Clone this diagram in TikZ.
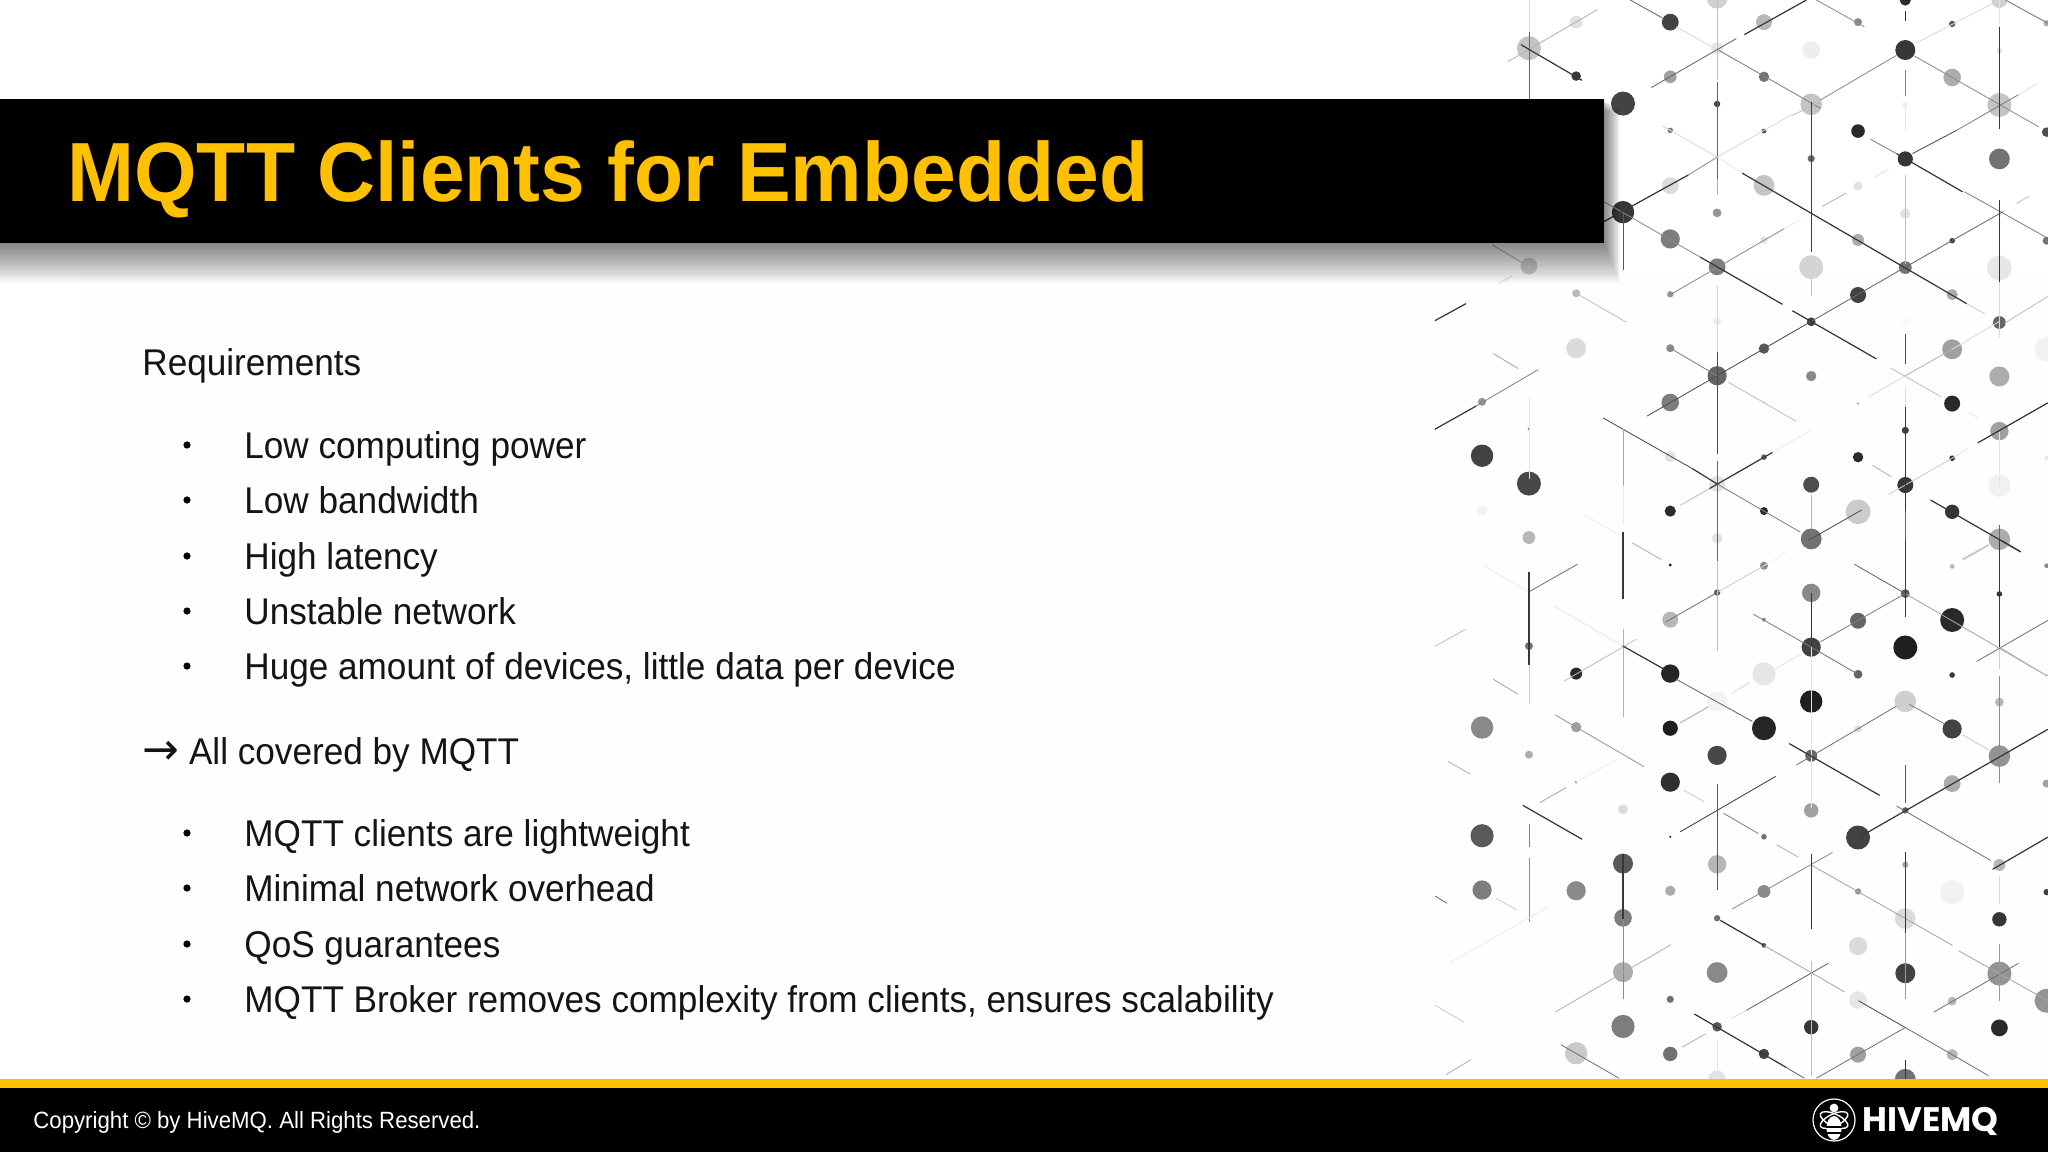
\documentclass[tikz,border=0pt]{standalone}
\usepackage{fontspec}
\usetikzlibrary{positioning, calc}

\setmainfont{Liberation Sans}
\newfontfamily\titlefont[FakeStretch=0.957]{Liberation Sans}
\newfontfamily\bodyfont[FakeStretch=0.945]{Liberation Sans}
\newfontfamily\arrowfont{DejaVu Sans}
\newfontfamily\logofont{Poppins}

\definecolor{hiveyellow}{HTML}{FFC000}

\begin{document}
\begin{tikzpicture}[
    x=0.5pt, y=-0.5pt,
    titletext/.style={anchor=base west, inner sep=0pt, text=hiveyellow, font=\titlefont\fontsize{42pt}{42pt}\selectfont\bfseries},
    bodytext/.style={anchor=base west, inner sep=0pt, text=black!92, font=\bodyfont\fontsize{18.6pt}{22pt}\selectfont},
    footertext/.style={anchor=base west, inner sep=0pt, text=white, font=\bodyfont\fontsize{11.75pt}{14pt}\selectfont},
    logotext/.style={anchor=base west, inner sep=0pt, text=white, font=\logofont\fontsize{17pt}{17pt}\selectfont\bfseries},
    bulletdot/.style={circle, fill=black, minimum size=3.6pt, inner sep=0pt},
    link/.style={line width=0.42pt},
    heavylink/.style={line width=0.62pt}
]

    % --- Page ---
    \clip (0,0) rectangle (2048,1152);
    \fill[white] (0,0) rectangle (2048,1152);
    \fill[white!99.6!black] (80,272) rectangle (2048,1079);

    % --- Upper half of the pattern ---
    \begin{scope}[shift={(1420,0)}, x=0.2002pt, y=-0.17857pt]
        \foreach \px/\py/\r/\k in {
            272/135/30/25, 390/62/16/12, 390/213/12/85, 625/62/21/80, 742/135/15/10, 742/-5/26/20,
            859/62/20/30, 1094/62/10/50, 1212/0/14/90, 1212/140/25/85, 1329/67/8/70, 1447/0/20/20,
            1447/142/7/12, 1565/65/8/35, 625/215/16/40, 859/215/13/60, 977/140/22/7, 1329/217/22/35,
            507/290/30/80, 742/291/8/80, 977/292/27/25, 1212/293/7/8, 1447/294/30/25, 1094/367/17/90,
            1565/370/12/75, 625/365/7/55, 859/367/6/75, 1447/445/26/60, 977/444/9/65, 1212/445/19/85,
            625/520/21/15, 859/519/26/25, 1094/521/11/12, 507/594/28/85, 742/596/11/45, 1212/598/13/12,
            625/669/24/55, 859/672/9/12, 1094/672/15/35, 1329/674/7/80, 1565/674/10/60, 272/745/21/20,
            742/747/21/55, 977/748/30/18, 1212/749/16/60, 1447/750/31/10, 390/821/10/30, 625/824/8/45,
            1094/826/20/80, 1329/825/14/35, 742/900/10/8, 977/901/11/80, 1212/900/12/2, 1447/903/16/65,
            390/975/25/15, 625/975/10/50, 859/976/13/70, 1329/978/25/40, 1565/978/30/6, 742/1052/24/65,
            977/1053/13/50, 1447/1054/25/35, 155/1125/10/45, 625/1127/22/55, 1329/1130/20/90, 272/1201/4/50,
            859/1127/2/50, 1094/1130/3/40, 1212/1205/9/80, 1447/1207/23/40, 625/1278/14/12, 859/1280/7/70,
            1094/1280/13/90, 1329/1283/7/85, 1565/1282/6/10, 155/1276/28/80, 272/1354/30/78, 742/1355/20/12,
            977/1357/20/75, 1212/1358/20/85, 1447/1360/28/6, 155/1430/12/5, 625/1431/14/90, 859/1431/10/90,
            1094/1433/31/22, 1329/1433/18/85, 272/1505/16/30, 742/1507/13/12, 977/1509/26/60, 1447/1510/27/35}
        {
            \fill[black!\k, opacity=0.92] (\px,\py) circle[radius=\r*0.2pt];
        }
        \foreach \ax/\ay/\bx/\by/\k in {
            272/0/272/90/15, 272/90/272/280/60, 220/172/443/27/30, 525/0/605/50/60, 640/75/790/170/15,
            742/0/742/225/25, 578/245/790/108/60, 990/0/1110/75/45, 745/140/1000/303/50, 742/230/742/500/60,
            742/500/742/545/30, 605/352/742/440/15, 742/440/805/485/8, 1000/280/1190/155/45, 930/323/1000/285/25,
            977/285/977/705/75, 670/490/742/440/45, 742/440/930/320/15, 1212/30/1212/60/80, 1212/195/1212/270/50,
            1212/300/1212/370/10, 1212/490/1212/740/25, 1447/0/1447/75/10, 1232/155/1545/355/45, 1240/120/1447/0/15,
            1462/0/1568/65/55, 1125/390/1190/430/50, 1230/430/1340/365/70, 1340/365/1495/265/50, 1495/265/1540/235/12,
            1360/537/1565/665/50, 1365/850/1410/878/20, 1175/1030/1300/1110/25, 460/565/700/720/45, 625/825/910/640/45,
            910/640/950/615/10, 977/900/1212/748/60, 1212/748/1457/592/60, 567/1165/977/900/70, 1447/790/1447/945/15,
            1460/905/1568/830/25, 1120/1112/1212/1052/15, 1212/1052/1329/978/30, 1329/978/1447/900/15,
            1212/935/1212/1020/70, 1212/1085/1212/1140/15, 1212/1430/1212/1568/60, 742/800/742/985/15, 742/985/742/1270/70,
            742/1290/742/1568/60, 625/975/742/1052/50, 770/1070/940/1180/25, 1370/1155/1395/1170/10, 1447/1210/1447/1360/10,
            1005/578/1065/540/30, 1135/497/1170/473/12, 1490/570/1520/550/25, 507/600/507/755/65, 180/685/255/735/30,
            197/793/230/773/15, 390/821/515/902/25, 183/990/245/1032/35, 140/1137/295/1035/50, 272/1115/272/1340/10,
            1170/1385/1212/1358/20, 1212/1358/1329/1283/20, 1329/1283/1370/1255/10, 457/1170/680/1312/70, 742/1355/859/1431/50,
            859/1431/950/1490/50, 880/1267/975/1205/8, 650/1415/723/1368/25, 507/1200/507/1360/35, 507/1360/507/1470/8,
            530/1520/600/1565/25, 408/1440/500/1500/8, 1130/1303/1177/1335/30, 970/1513/1103/1428/70, 977/1385/977/1480/30,
            1355/1565/1420/1525/25, 1447/1470/1447/1568/60, 977/780/977/830/25}
        {
            \draw[link, black!\k] (\ax,\ay) -- (\bx,\by);
        }
        \foreach \ax/\ay/\bx/\by in {
            252/125/405/225, 810/97/965/0, 460/620/670/490, 1447/75/1447/360, 1190/430/1355/537,
            805/485/1365/850, 700/720/905/852, 930/870/1140/1005, 1447/560/1447/790, 1212/1140/1212/1430,
            1393/1240/1568/1128, 37/898/115/850, 37/1202/140/1137, 680/1312/742/1355, 723/1368/880/1267,
            507/1490/507/1568, 1275/1400/1500/1545}
        {
            \draw[heavylink, black!78] (\ax,\ay) -- (\bx,\by);
        }
    \end{scope}

    % --- Lower half of the pattern ---
    \begin{scope}[shift={(1420,540)}, x=0.2002pt, y=-0.17857pt]
        \foreach \px/\py/\r/\k in {
            625/70/4/95, 859/72/10/50, 1329/74/6/30, 1565/72/6/50, 742/147/8/70, 977/148/23/50,
            1212/150/11/70, 1447/151/7/85, 625/223/20/30, 859/223/5/50, 1094/226/20/65, 1329/224/30/90,
            272/297/10/60, 977/300/24/80, 1212/301/30/95, 390/374/15/90, 625/374/23/92, 859/375/29/10,
            1094/376/11/65, 1329/378/7/85, 1565/379/2/85, 977/452/28/95, 1212/452/27/20, 742/452/25/5,
            1447/454/11/30, 155/525/28/50, 390/524/13/40, 625/527/19/95, 859/527/30/92, 1094/529/9/15,
            1329/529/24/80, 272/601/10/35, 742/603/24/78, 977/604/15/65, 1447/605/27/45, 625/678/24/88,
            390/678/4/35, 1329/682/21/35, 1565/682/10/40, 507/754/12/15, 977/757/18/40, 1212/757/8/70,
            155/828/29/70, 625/831/3/90, 859/831/7/60, 1094/833/30/80, 507/906/25/70, 742/908/23/30,
            1212/909/8/35, 1447/910/15/30, 155/980/24/55, 390/982/24/50, 625/982/13/35, 859/984/16/50,
            1094/984/8/45, 1329/986/30/6, 1565/986/8/80, 507/1058/22/55, 742/1059/8/60, 1212/1060/26/15,
            1447/1062/18/85, 859/1135/6/70, 1094/1137/23/15, 507/1210/25/35, 742/1211/26/50, 1212/1213/25/80,
            1447/1214/30/45, 625/1286/9/60, 1094/1288/22/10, 1329/1291/11/30, 1565/1290/30/45, 507/1362/29/55,
            742/1363/12/70, 977/1364/18/85, 1447/1366/21/90, 390/1437/28/22, 625/1439/18/60, 859/1439/13/80,
            1094/1441/20/40, 1329/1441/14/30, 742/1510/22/12, 1212/1510/26/60}
        {
            \fill[black!\k, opacity=0.92] (\px,\py) circle[radius=\r*0.2pt];
        }
        \foreach \ax/\ay/\bx/\by/\k in {
            272/350/272/460/20, 272/145/393/68/55, 160/72/272/145/8, 37/298/113/250/25, 183/390/245/432/35,
            530/8/603/55/25, 742/0/742/60/60, 742/60/742/310/25, 613/230/742/147/55, 742/147/859/72/20,
            859/72/920/30/5, 833/208/977/300/50, 977/300/1094/376/55, 977/300/977/750/10, 1085/68/1212/150/60,
            1000/285/1212/150/50, 1212/150/1565/380/35, 1212/630/1212/735/65, 1447/300/1447/360/20, 1447/380/1447/680/45,
            1390/340/1568/225/55, 1447/300/1565/380/30, 1357/55/1420/15/25, 335/185/507/297/10, 507/250/507/495/30,
            360/395/540/278/25, 640/390/830/508/60, 780/428/822/400/15, 865/375/950/320/10, 650/512/720/467/35,
            338/490/560/635/40, 300/735/365/693/35, 390/678/490/615/8, 70/620/125/655/30, 272/795/272/860/50,
            272/890/272/1070/45, 650/817/888/662/75, 742/683/742/980/65, 658/700/710/733/20, 758/765/845/822/50,
            890/853/945/888/30, 940/630/1190/465/55, 1222/460/1310/515/50, 1355/545/1420/588/20, 1190/745/1425/897/55,
            1447/940/1447/1020/15, 977/910/1330/1135/35, 780/1033/1030/875/45, 507/1060/507/1285/45, 190/1003/240/1035/20,
            38/997/67/1017/60, 75/1183/320/1028/8, 337/1322/627/1133/30, 38/1303/110/1350/20, 65/1497/127/1455/30,
            352/1413/497/1507/55, 859/1135/1060/1265/35, 815/1317/1020/1185/60, 780/1338/815/1317/15, 977/1180/977/1500/25,
            1095/1290/1212/1365/70, 1212/1365/1420/1500/55, 990/1507/1212/1365/55, 1212/1100/1212/1285/40, 1345/1150/1568/1290/35,
            1283/1322/1495/1185/55, 1447/1130/1447/1290/40, 915/1477/960/1507/60, 742/1400/742/1508/10, 655/1420/713/1383/30}
        {
            \draw[link, black!\k] (\ax,\ay) -- (\bx,\by);
        }
        \foreach \ax/\ay/\bx/\by in {
            272/90/272/350, 507/0/507/165, 1212/0/1212/215, 1447/0/1447/300, 507/297/610/362,
            1450/0/1500/33, 257/743/405/838, 922/570/1148/715, 1100/830/1568/530, 1430/922/1568/832,
            977/148/977/300, 977/880/977/1090, 507/880/507/1060, 750/1065/859/1135, 1212/873/1212/1100,
            685/1327/915/1477, 1212/1455/1212/1508}
        {
            \draw[heavylink, black!78] (\ax,\ay) -- (\bx,\by);
        }
    \end{scope}

    % --- Title bar with its shadow ---
    \foreach \d in {40,38,...,2} {
        \fill[black, opacity=0.028] (-10,99+0.3*\d) rectangle (1604+0.4*\d,243+\d);
    }
    \fill[black] (0,99) rectangle (1604,243);
    \node[titletext] (title) at (67,201) {MQTT Clients for Embedded};

    % --- First list ---
    \node[bodytext] (req) at (142,375) {Requirements};
    \node[bodytext] (req1) at (244,458) {Low computing power};
    \node[bodytext] (req2) at (244,513) {Low bandwidth};
    \node[bodytext] (req3) at (244,569) {High latency};
    \node[bodytext] (req4) at (244,624) {Unstable network};
    \node[bodytext] (req5) at (244,679) {Huge amount of devices, little data per device};
    \node[bulletdot] (dot1) at (187,445) {};
    \node[bulletdot] (dot2) at (187,500) {};
    \node[bulletdot] (dot3) at (187,556) {};
    \node[bulletdot] (dot4) at (187,611) {};
    \node[bulletdot] (dot5) at (187,666) {};

    % --- Second list ---
    \node[bodytext] (cov) at (142,764) {{\arrowfont\fontsize{22pt}{22pt}\selectfont →} All covered by MQTT};
    \node[bodytext] (cov1) at (244,846) {MQTT clients are lightweight};
    \node[bodytext] (cov2) at (244,901) {Minimal network overhead};
    \node[bodytext] (cov3) at (244,957) {QoS guarantees};
    \node[bodytext] (cov4) at (244,1012) {MQTT Broker removes complexity from clients, ensures scalability};
    \node[bulletdot] (dot6) at (187,833) {};
    \node[bulletdot] (dot7) at (187,888) {};
    \node[bulletdot] (dot8) at (187,944) {};
    \node[bulletdot] (dot9) at (187,999) {};

    % --- Footer ---
    \fill[hiveyellow] (0,1079) rectangle (2048,1088);
    \fill[black] (0,1088) rectangle (2048,1152);
    \node[footertext] (copy) at (33,1128) {Copyright © by HiveMQ. All Rights Reserved.};

    % --- Logo ---
    \coordinate (bee) at (1834,1120);
    \draw[white, line width=0.6pt] (bee) circle[radius=10.5pt];
    \draw[white, line width=0.7pt, rotate around={25:(bee)}] (bee) ellipse[x radius=7.5pt, y radius=3pt];
    \draw[white, line width=0.7pt, rotate around={-25:(bee)}] (bee) ellipse[x radius=7.5pt, y radius=3pt];
    \fill[white] ($(bee)+(0,-12)$) circle[radius=2.2pt];
    \fill[white] ($(bee)+(0,8)$) ellipse[x radius=3.8pt, y radius=6pt];
    \fill[black] ($(bee)+(-8,6)$) rectangle ($(bee)+(8,7.5)$);
    \fill[black] ($(bee)+(-8,12)$) rectangle ($(bee)+(8,13.5)$);
    \node[logotext] (hivemq) at (1862,1131) {HIVEMQ};

\end{tikzpicture}
\end{document}
